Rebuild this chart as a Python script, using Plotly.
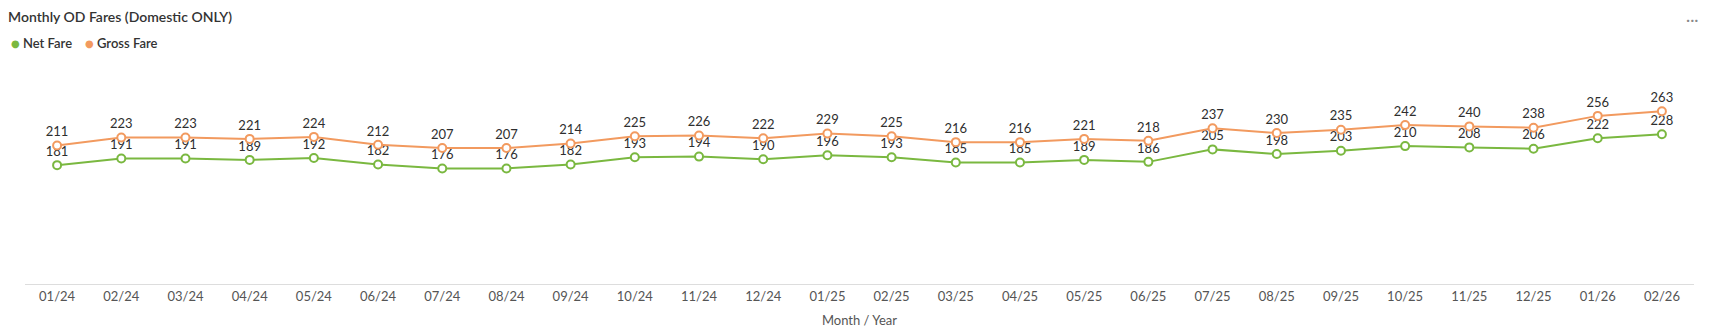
import plotly.graph_objects as go

months = ["01/24","02/24","03/24","04/24","05/24","06/24","07/24","08/24","09/24","10/24","11/24","12/24",
          "01/25","02/25","03/25","04/25","05/25","06/25","07/25","08/25","09/25","10/25","11/25","12/25",
          "01/26","02/26"]
net_fare = [181,191,191,189,192,182,176,176,182,193,194,190,196,193,185,185,189,186,205,198,203,210,208,206,222,228]
gross_fare = [211,223,223,221,224,212,207,207,214,225,226,222,229,225,216,216,221,218,237,230,235,242,240,238,256,263]
series_names = ["Net Fare", "Gross Fare"]

GREEN = "#7ab840"
ORANGE = "#f29a5f"
FONT = "Lato"

fig = go.Figure()
for name, vals, col in [(series_names[0], net_fare, GREEN), (series_names[1], gross_fare, ORANGE)]:
    fig.add_trace(go.Scatter(
        x=months, y=vals, name=name, mode="lines+markers+text",
        text=[str(v) for v in vals], textposition="top center",
        textfont=dict(family=FONT, size=13, color="#2e2e2e"),
        line=dict(color=col, width=2),
        marker=dict(symbol="circle", size=8, color="white", line=dict(color=col, width=2)),
        showlegend=False, cliponaxis=False,
    ))

fig.update_layout(
    width=1713, height=334,
    margin=dict(l=25, r=19, t=87, b=50, autoexpand=False),
    paper_bgcolor="white", plot_bgcolor="white",
    font=dict(family=FONT, color="#333333"),
    title=dict(text="Monthly OD Fares (Domestic ONLY)", x=0.0047, xanchor="left", y=0.95, yanchor="middle",
               font=dict(family=FONT, size=14, color="#333333", weight=600)),
    showlegend=False,
    xaxis=dict(type="category", range=[-0.5, 25.5], showgrid=False, showline=True, linecolor="#dddddd",
               linewidth=1, ticks="", automargin=False, tickfont=dict(family=FONT, size=13, color="#555555"),
               title=dict(text="Month / Year", font=dict(family=FONT, size=13, color="#555555"), standoff=13)),
    yaxis=dict(range=[0, 300], visible=False, showgrid=False, zeroline=False, automargin=False),
)

# legend drawn as annotations (filled dots + labels)
legend_items = [(series_names[0], GREEN, 9), (series_names[1], ORANGE, 83)]
for name, col, px in legend_items:
    fig.add_annotation(text="●", xref="paper", yref="paper", x=0, y=1, xanchor="left", yanchor="middle",
                       xshift=px - 25, yshift=87 - 43, showarrow=False,
                       font=dict(family="DejaVu Sans", size=10, color=col))
    fig.add_annotation(text=name, xref="paper", yref="paper", x=0, y=1, xanchor="left", yanchor="middle",
                       xshift=px - 25 + 12, yshift=87 - 43, showarrow=False,
                       font=dict(family=FONT, size=13, color="#333333", weight=600))

fig.add_annotation(text="···", xref="paper", yref="paper", x=1.0, y=1.0, xshift=6, yshift=69,
                   showarrow=False, font=dict(size=16, color="#888888"), xanchor="right", yanchor="middle")

fig.write_html("out.html")
